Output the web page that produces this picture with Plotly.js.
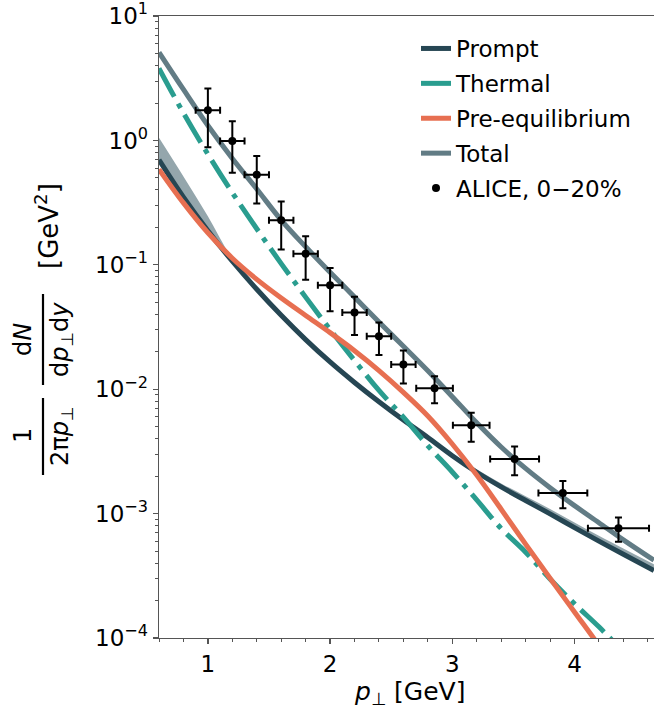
<!DOCTYPE html>
<html><head><meta charset="utf-8">
<script src="https://cdn.plot.ly/plotly-3.0.1.min.js"></script>
<style>html,body{margin:0;padding:0;background:#fff;}#chart{width:654px;height:711px;}</style>
</head><body><div id="chart"></div>
<script>
// ---- data ----
const pT = [0.6,0.8,1.0,1.2,1.4,1.6,1.8,2.0,2.2,2.4,2.6,2.8,3.0,3.2,3.4,3.6,3.8,4.0,4.2,4.4,4.65];
const promptY = [0.698,0.350,0.188,0.1069,0.0637,0.0393,0.02506,0.01656,0.01132,0.00792,0.00565,0.00409,0.00292,0.00215,0.00164,0.001274,0.000995,0.000771,0.000601,0.000471,0.000349];
const promptUpperY = [1.05,0.513,0.246,0.112,0.0641,0.0396,0.0253,0.0167,0.0114,0.00798,0.00575,0.00423,0.00305,0.00227,0.00175,0.00138,0.00109,0.000849,0.000664,0.000524,0.000391];
const thermalY = [3.80,1.66,0.776,0.380,0.195,0.1023,0.0550,0.0302,0.0170,0.00977,0.00596,0.00351,0.00216,0.001288,0.000759,0.00049,0.0002985,0.0001884,0.000123,0.0000776,0.0000447];
const preeqY = [0.586,0.3148,0.1811,0.1130,0.0764,0.0541,0.0392,0.0285,0.0204,0.01413,0.00944,0.0061,0.00363,0.00204,0.001084,0.000569,0.000302,0.000162,0.0000871,0.0000457,0.00002];
const totalY = [5.105,2.57,1.318,0.716,0.407,0.229,0.1396,0.0871,0.055,0.0347,0.02213,0.01406,0.00871,0.00537,0.00343,0.002307,0.001614,0.001159,0.000845,0.000615,0.000422];

const aliceX = [1.0,1.2,1.4,1.6,1.8,2.0,2.2,2.4,2.6,2.855,3.155,3.51,3.905,4.36];
const aliceY = [1.75,0.99,0.531,0.228,0.123,0.0684,0.0413,0.0266,0.0158,0.0102,0.00513,0.00275,0.001466,0.000762];
const aliceYerr = [0.87,0.44,0.22,0.095,0.047,0.026,0.014,0.0078,0.0047,0.0025,0.00134,0.00072,0.00036,0.000168];
const aliceXerr = [0.1,0.1,0.1,0.1,0.1,0.1,0.1,0.1,0.1,0.15,0.15,0.2,0.2,0.25];

const yTickVals = [1e-4,1e-3,1e-2,1e-1,1,10];
const yTickText = ['10<sup>\u22124</sup>','10<sup>\u22123</sup>','10<sup>\u22122</sup>','10<sup>\u22121</sup>','10<sup>0</sup>','10<sup>1</sup>'];
const xTickVals = [1,2,3,4];
const xTickText = ['1','2','3','4'];

// ---- colours / styles ----
const C_PROMPT = '#264653', C_THERM = '#2a9d8f', C_PRE = '#e76f51', C_TOTAL = '#627c85', C_BAND = '#94a6ac';
const LW = 5;

const yMinor = [];
for (let e = -4; e <= 0; e++) for (let m = 2; m <= 9; m++) yMinor.push(m * Math.pow(10, e));

const traces = [
  {x: pT, y: promptY, mode:'lines', line:{color:C_BAND, width:0, shape:'spline'}, showlegend:false, hoverinfo:'skip', legendgroup:'band'},
  {x: pT, y: promptUpperY, mode:'lines', line:{color:C_BAND, width:0, shape:'spline'}, fill:'tonexty', fillcolor:C_BAND, showlegend:false, hoverinfo:'skip', legendgroup:'band'},
  {x: pT, y: promptY, name:'Prompt', legendgroup:'g1', mode:'lines', line:{color:C_PROMPT, width:LW, shape:'spline'}},
  {x: pT, y: thermalY, name:'Thermal', legendgroup:'g2', mode:'lines', line:{color:C_THERM, width:LW, dash:'32px,8px,5px,8px', shape:'spline'}},
  {x: pT, y: preeqY, name:'Pre-equilibrium', legendgroup:'g3', mode:'lines', line:{color:C_PRE, width:LW, shape:'spline'}},
  {x: pT, y: totalY, name:'Total', legendgroup:'g4', mode:'lines', line:{color:C_TOTAL, width:LW, shape:'spline'}},
  {x: aliceX, y: aliceY, name:'ALICE, 0\u221220%', legendgroup:'g5', mode:'markers',
   marker:{color:'#000', size:8},
   error_y:{type:'data', array:aliceYerr, visible:true, color:'#000', thickness:2, width:3.5},
   error_x:{type:'data', array:aliceXerr, visible:true, color:'#000', thickness:2, width:3.5}}
];

const L = 159, T = 16, W = 495, H = 622;
const pxX = v => (v - L) / W;
const pxY = v => (T + H - v) / H;
const FONT = 'DejaVu Sans';

const layout = {
  width: 654, height: 711,
  margin: {l: L, r: 654 - L - W, t: T, b: 711 - T - H, pad: 0},
  paper_bgcolor: '#fff', plot_bgcolor: '#fff',
  font: {family: FONT, size: 22, color: '#000'},
  showlegend: true,
  legend: {x: pxX(416), y: pxY(27), xanchor: 'left', yanchor: 'top', bgcolor: 'rgba(0,0,0,0)',
           traceorder: 'grouped', tracegroupgap: 2,
           font: {family: FONT, size: 23, color: '#000'}},
  xaxis: {range: [0.6, 0.6 + W / 122.2], showgrid: false, zeroline: false,
          showline: true, mirror: true, linecolor: '#555', linewidth: 1.3,
          ticks: 'outside', ticklen: 5, tickwidth: 1.3, tickcolor: '#555',
          tickmode: 'array', tickvals: xTickVals, ticktext: xTickText,
          ticklabeloverflow: 'allow',
          tickfont: {family: FONT, size: 23, color: '#000'},
          minor: {tickmode: 'linear', tick0: 0, dtick: 0.2, ticks: 'outside', ticklen: 3, tickwidth: 1, tickcolor: '#555', showgrid: false}},
  yaxis: {type: 'log', range: [-4, 1.0005], showgrid: false, zeroline: false,
          showline: true, linecolor: '#555', linewidth: 1.3,
          ticks: 'outside', ticklen: 5, tickwidth: 1.3, tickcolor: '#555',
          tickmode: 'array', tickvals: yTickVals, ticktext: yTickText,
          ticklabeloverflow: 'allow',
          tickfont: {family: FONT, size: 23, color: '#000'},
          minor: {tickmode: 'array', tickvals: yMinor, ticks: 'outside', ticklen: 3, tickwidth: 1, tickcolor: '#555', showgrid: false}},
  annotations: [
    {text: '<i>p</i><sub>\u22a5</sub> [GeV]', xref: 'paper', yref: 'paper', x: pxX(409), y: pxY(693), showarrow: false, xanchor: 'center', yanchor: 'middle', font: {family: FONT, size: 25}},
    {text: '1', xref: 'paper', yref: 'paper', x: pxX(23), y: pxY(436), textangle: -90, showarrow: false, xanchor: 'center', yanchor: 'middle', font: {family: FONT, size: 24}},
    {text: '2\u03c0<i>p</i><sub>\u22a5</sub>', xref: 'paper', yref: 'paper', x: pxX(61), y: pxY(436), textangle: -90, showarrow: false, xanchor: 'center', yanchor: 'middle', font: {family: FONT, size: 24}},
    {text: 'd<i>N</i>', xref: 'paper', yref: 'paper', x: pxX(23), y: pxY(340), textangle: -90, showarrow: false, xanchor: 'center', yanchor: 'middle', font: {family: FONT, size: 24}},
    {text: 'd<i>p</i><sub>\u22a5</sub>d<i>y</i>', xref: 'paper', yref: 'paper', x: pxX(61), y: pxY(340), textangle: -90, showarrow: false, xanchor: 'center', yanchor: 'middle', font: {family: FONT, size: 24}},
    {text: '[GeV<sup>2</sup>]', xref: 'paper', yref: 'paper', x: pxX(47), y: pxY(226), textangle: -90, showarrow: false, xanchor: 'center', yanchor: 'middle', font: {family: FONT, size: 26}}
  ],
  shapes: [
    {type: 'line', xref: 'paper', yref: 'paper', x0: pxX(43), x1: pxX(43), y0: pxY(398), y1: pxY(475), line: {color: '#000', width: 2.2}},
    {type: 'line', xref: 'paper', yref: 'paper', x0: pxX(43), x1: pxX(43), y0: pxY(294), y1: pxY(385), line: {color: '#000', width: 2.2}}
  ]
};

Plotly.newPlot('chart', traces, layout, {displayModeBar: false, staticPlot: true});
</script>
</body></html>
